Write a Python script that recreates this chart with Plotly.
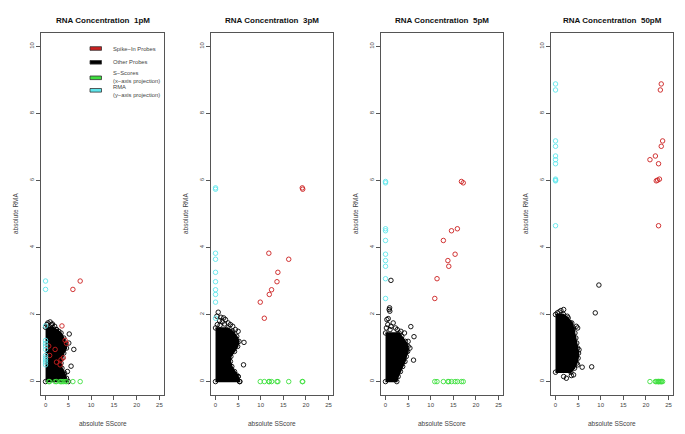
import plotly.graph_objects as go

W, H = 685, 434

# ---------------- data ----------------
concentrations = ["1pM", "3pM", "5pM", "50pM"]

# Spike-in probes (absolute SScore, absolute RMA)
spike_x_1pM = [7.6, 6.0, 3.6, 4.3, 4.6, 0.7, 0.9, 3.4, 2.4, 3.2, 3.9, 2.1]
spike_y_1pM = [3.0, 2.75, 1.66, 1.23, 1.14, 1.06, 0.78, 0.65, 0.58, 0.50, 0.71, 0.96]
spike_x_3pM = [19.2, 19.3, 11.8, 16.2, 13.8, 13.6, 12.4, 11.9, 9.9, 10.8]
spike_y_3pM = [5.78, 5.74, 3.83, 3.65, 3.26, 2.98, 2.74, 2.60, 2.37, 1.89]
spike_x_5pM = [16.8, 17.2, 15.9, 14.6, 12.8, 15.4, 13.8, 14.0, 11.4, 10.9]
spike_y_5pM = [5.97, 5.93, 4.56, 4.50, 4.21, 3.80, 3.61, 3.44, 3.07, 2.48]
spike_x_50pM = [23.4, 23.2, 23.7, 23.4, 22.1, 20.9, 22.8, 23.0, 22.3, 22.6, 22.8]
spike_y_50pM = [8.88, 8.70, 7.18, 7.02, 6.73, 6.62, 6.50, 6.04, 5.99, 6.01, 4.65]

# Other probes: dense core (right envelope per RMA level) ...
core_y_1pM = [0.0, 0.1, 0.25, 0.4, 0.55, 0.7, 0.85, 1.0, 1.15, 1.3, 1.45, 1.55, 1.62]
core_x_1pM = [5.0, 4.6, 4.2, 3.6, 3.4, 3.6, 4.0, 4.6, 4.4, 4.0, 3.4, 2.4, 1.6]
core_y_3pM = [0.0, 0.15, 0.3, 0.45, 0.6, 0.75, 0.9, 1.05, 1.2, 1.35, 1.5, 1.6]
core_x_3pM = [5.3, 5.0, 4.2, 3.6, 3.3, 3.4, 4.2, 4.9, 5.2, 4.7, 3.8, 2.7]
core_y_5pM = [0.0, 0.15, 0.3, 0.45, 0.6, 0.75, 0.9, 1.05, 1.2, 1.35, 1.45]
core_x_5pM = [2.5, 2.8, 3.3, 3.8, 4.3, 4.6, 4.9, 5.0, 4.4, 3.6, 3.0]
core_y_50pM = [0.28, 0.4, 0.55, 0.7, 0.85, 1.0, 1.15, 1.3, 1.45, 1.6, 1.75, 1.9, 2.0]
core_x_50pM = [3.4, 4.2, 4.7, 5.0, 5.1, 4.9, 4.7, 4.5, 4.3, 4.0, 3.6, 2.8, 1.8]

# ... and the sparse probes around it
other_x_1pM = [0.3, 0.5, 1.0, 1.3, 1.5, 2.0, 2.4, 2.9, 5.2, 6.2, 5.6, 5.1, 4.8]
other_y_1pM = [1.7, 1.75, 1.78, 1.7, 1.72, 1.65, 1.55, 1.5, 1.42, 0.96, 0.46, 1.15, 0.3]
other_x_3pM = [0.6, 0.3, 1.2, 1.8, 2.2, 0.9, 2.8, 3.3, 3.8, 4.4, 5.0, 1.5, 0.4, 1.0, 2.0,
               6.3, 6.2, 5.4, 5.0, 4.6]
other_y_3pM = [2.07, 1.95, 1.92, 1.9, 1.85, 1.82, 1.75, 1.7, 1.65, 1.55, 1.5, 1.78, 1.7,
               1.68, 1.72, 1.17, 0.50, 0.0, 0.15, 0.2]
other_x_5pM = [0.9, 0.95, 0.8, 1.2, 0.3, 0.6, 0.5, 1.2, 2.2, 2.6, 3.4, 4.2, 1.7, 0.2, 1.0,
               5.6, 6.3, 6.2, 5.0, 5.4, 4.6]
other_y_5pM = [2.2, 2.1, 2.15, 3.02, 1.85, 1.88, 1.7, 1.65, 1.6, 1.55, 1.5, 1.45, 1.75, 1.6,
               1.55, 1.64, 1.34, 0.64, 1.2, 1.0, 0.9]
other_x_50pM = [1.8, 1.2, 0.4, 0.8, 2.6, 3.3, 3.8, 4.6, 4.9, 4.0, 5.2, 4.9, 5.9, 8.0,
                1.8, 2.4, 3.5, 4.0, 8.8, 9.6]
other_y_50pM = [2.15, 2.12, 2.05, 2.08, 1.95, 1.75, 1.55, 1.65, 1.6, 1.3, 0.95, 0.5, 0.43,
                0.44, 0.15, 0.1, 0.18, 0.2, 2.05, 2.88]

x_ticks = [0, 5, 10, 15, 20, 25]
y_ticks = [0, 2, 4, 6, 8, 10]

legend_labels = [["Spike\u2212In Probes"], ["Other Probes"],
                 ["S\u2212Scores", "(x\u2212axis projection)"],
                 ["RMA", "(y\u2212axis projection)"]]

spike_x = [spike_x_1pM, spike_x_3pM, spike_x_5pM, spike_x_50pM]
spike_y = [spike_y_1pM, spike_y_3pM, spike_y_5pM, spike_y_50pM]
core_x = [core_x_1pM, core_x_3pM, core_x_5pM, core_x_50pM]
core_y = [core_y_1pM, core_y_3pM, core_y_5pM, core_y_50pM]
other_x = [other_x_1pM, other_x_3pM, other_x_5pM, other_x_50pM]
other_y = [other_y_1pM, other_y_3pM, other_y_5pM, other_y_50pM]

# ---------------- style ----------------
RED = "#cc1f1f"
GREEN = "#3fe03f"
CYAN = "#5ee6ec"
BLACK = "#000000"
FONT = "Liberation Sans, Arial, Helvetica, sans-serif"
px_dom = [(41, 164), (211, 333), (381, 503), (551, 673)]
top_px, bot_px = 33, 395

fig = go.Figure()


def circ(color):
    return dict(symbol="circle-open", size=4.5, color=color, line=dict(width=0.9, color=color))


for i, conc in enumerate(concentrations):
    xa = "x" if i == 0 else f"x{i+1}"
    ya = "y" if i == 0 else f"y{i+1}"
    cx = [0] + core_x[i] + [0]
    cy = [core_y[i][0]] + core_y[i] + [core_y[i][-1]]
    fig.add_trace(go.Scatter(x=cx, y=cy, mode="lines+markers", fill="toself",
                             fillcolor=BLACK, line=dict(color=BLACK, width=1.5),
                             marker=circ(BLACK), xaxis=xa, yaxis=ya,
                             showlegend=False, hoverinfo="skip"))
    fig.add_trace(go.Scatter(x=other_x[i], y=other_y[i], mode="markers", marker=circ(BLACK),
                             xaxis=xa, yaxis=ya, showlegend=False))
    fig.add_trace(go.Scatter(x=spike_x[i], y=spike_y[i], mode="markers", marker=circ(RED),
                             xaxis=xa, yaxis=ya, showlegend=False))
    fig.add_trace(go.Scatter(x=spike_x[i], y=[0] * len(spike_x[i]), mode="markers",
                             marker=circ(GREEN), xaxis=xa, yaxis=ya, showlegend=False))
    fig.add_trace(go.Scatter(x=[0] * len(spike_y[i]), y=spike_y[i], mode="markers",
                             marker=circ(CYAN), xaxis=xa, yaxis=ya, showlegend=False))

    l, r = px_dom[i]
    axis_common = dict(showline=True, mirror=True, linecolor="#555", linewidth=1,
                       ticks="outside", ticklen=4, tickcolor="#555", showgrid=False,
                       zeroline=False, automargin=False,
                       tickfont=dict(size=6, color="#444", family=FONT))
    fig.layout[("xaxis" if i == 0 else f"xaxis{i+1}")] = dict(
        domain=[l / W, r / W], range=[-1, 26], tickvals=x_ticks, anchor=ya, **axis_common)
    fig.layout[("yaxis" if i == 0 else f"yaxis{i+1}")] = dict(
        domain=[1 - bot_px / H, 1 - top_px / H], range=[-0.4, 10.4], tickvals=y_ticks,
        tickangle=-90, anchor=xa, **axis_common)

    cxp = (l + r) / 2 / W
    fig.add_annotation(text=f"<b>RNA Concentration  {conc}</b>", x=cxp, y=1 - 20 / H,
                       xref="paper", yref="paper", showarrow=False, xanchor="center",
                       yanchor="middle", font=dict(size=8, color="#111", family=FONT))
    fig.add_annotation(text="absolute SScore", x=cxp, y=1 - 423 / H, xref="paper",
                       yref="paper", showarrow=False, xanchor="center", yanchor="middle",
                       font=dict(size=6.5, color="#444", family=FONT))
    fig.add_annotation(text="absolute RMA", x=(l - 26) / W, y=1 - 214 / H, xref="paper",
                       yref="paper", showarrow=False, textangle=-90, xanchor="center",
                       yanchor="middle", font=dict(size=6.5, color="#444", family=FONT))

# legend (panel 1)
leg_colors = [RED, BLACK, GREEN, CYAN]
leg_rect_y = [48.5, 62.3, 77.8, 90.3]
leg_text_y = [[48.5], [62.3], [73.3, 80.8], [87.0, 94.5]]
for c, ry, tys, labs in zip(leg_colors, leg_rect_y, leg_text_y, legend_labels):
    fig.add_shape(type="rect", xref="paper", yref="paper", x0=90 / W, x1=101.5 / W,
                  y0=1 - (ry + 1.8) / H, y1=1 - (ry - 1.8) / H, fillcolor=c,
                  line=dict(color="#333", width=0.8))
    for ty, lab in zip(tys, labs):
        fig.add_annotation(text=lab, x=111 / W, y=1 - ty / H, xref="paper", yref="paper",
                           xanchor="left", yanchor="middle", showarrow=False,
                           font=dict(size=5.8, color="#444", family=FONT))

fig.update_layout(width=W, height=H, margin=dict(l=0, r=0, t=0, b=0),
                  paper_bgcolor="white", plot_bgcolor="white", showlegend=False)

fig.write_html("out.html", config={"displayModeBar": False},
               post_script="document.body.style.margin='0';document.body.style.padding='0';")
